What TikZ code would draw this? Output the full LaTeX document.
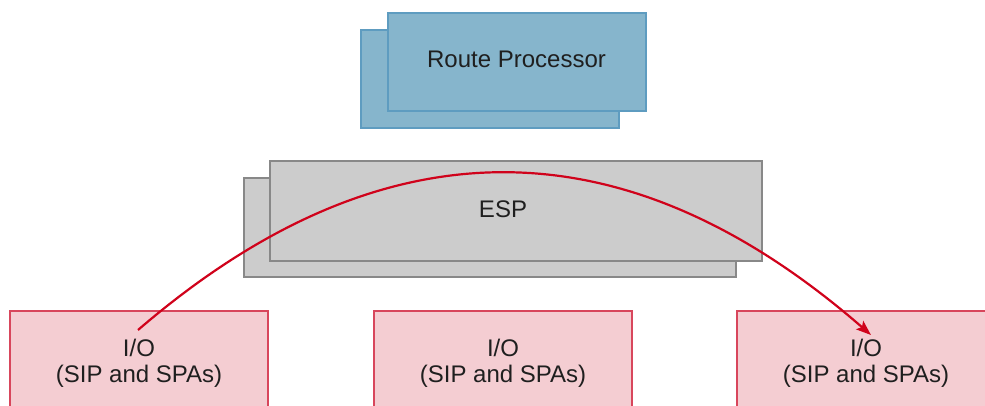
\documentclass[tikz,border=0pt]{standalone}
\usepackage{fontspec}
\setmainfont{Liberation Sans}
\usetikzlibrary{arrows.meta}
\definecolor{rpfill}{HTML}{86B5CC}
\definecolor{rpdraw}{HTML}{5E9CC0}
\definecolor{espfill}{HTML}{CCCCCC}
\definecolor{espdraw}{HTML}{888888}
\definecolor{iofill}{HTML}{F4CDD2}
\definecolor{iodraw}{HTML}{D8465C}
\definecolor{arrowred}{HTML}{D0021B}
\tikzset{
  rpbox/.style={draw=rpdraw, fill=rpfill, line width=2pt, minimum width=258pt, minimum height=98pt, inner sep=0pt},
  espbox/.style={draw=espdraw, fill=espfill, line width=2pt, minimum width=492pt, minimum height=99pt, inner sep=0pt},
  iobox/.style={draw=iodraw, fill=iofill, line width=2pt, minimum width=258pt, minimum height=104pt, inner sep=0pt, align=center},
  lbl/.style={font=\fontsize{24pt}{26pt}\selectfont, text=black!88},
  flow/.style={draw=arrowred, line width=2.2pt, -{Stealth[length=15pt,width=11pt,inset=3pt]}}
}
\begin{document}
\begin{tikzpicture}[x=1pt,y=1pt]
\useasboundingbox (0,0) rectangle (985,-406);
\clip (0,0) rectangle (985,-406);
\fill[white] (0,0) rectangle (985,-406);
% Route Processor
\node[rpbox] (rpback) at (490,-79) {};
\node[rpbox] (rp) at (516.5,-62) {};
\node[lbl] (rptext) at (516.5,-59) {Route Processor};
% ESP
\node[espbox] (espback) at (489.5,-227.5) {};
\node[espbox] (esp) at (516,-211) {};
\node[lbl] (esptext) at (503,-209) {ESP};
% I/O boxes
\node[iobox, lbl] (io1) at (139,-363) {I/O\\(SIP and SPAs)};
\node[iobox, lbl] (io2) at (503,-363) {I/O\\(SIP and SPAs)};
\node[iobox, lbl] (io3) at (866,-363) {I/O\\(SIP and SPAs)};
% arrow
\coordinate (s) at (138,-330);
\coordinate (e) at (871,-335);
\draw[flow] (s) .. controls (382,-120) and (624,-120) .. (e);
\end{tikzpicture}
\end{document}
